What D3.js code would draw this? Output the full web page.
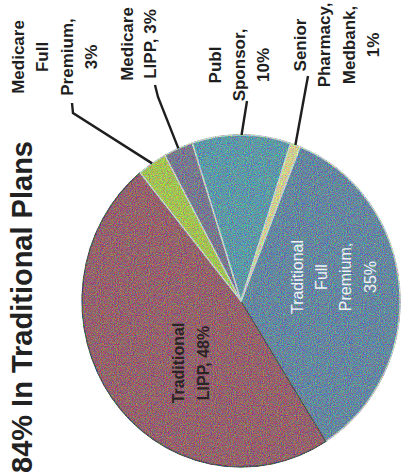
<!DOCTYPE html>
<html>
<head>
<meta charset="utf-8">
<script src="https://cdn.jsdelivr.net/npm/d3@7"></script>
<style>
  body { margin: 0; background: #fff; }
  svg { display: block; }
  text { font-family: "Liberation Sans", Arial, sans-serif; }
</style>
</head>
<body>
<script>
// slices, in drawing order (clockwise from the Senior/Traditional boundary)
var categories = ["Traditional Full Premium", "Traditional LIPP", "Medicare Full Premium", "Medicare LIPP", "Publ Sponsor", "Senior Pharmacy, Medbank"];
var shares = [35, 48, 3, 3, 10, 1];
var colors = ["#66879f", "#94636d", "#a3c056", "#78798f", "#5f98a6", "#cfcd8e"];
var labelLines = [
  ["Traditional", "Full", "Premium,", "35%"],
  ["Traditional", "LIPP, 48%"],
  ["Medicare", "Full", "Premium,", "3%"],
  ["Medicare", "LIPP, 3%"],
  ["Publ", "Sponsor,", "10%"],
  ["Senior", "Pharmacy,", "Medbank,", "1%"]
];
var title = "84% In Traditional Plans";

var width = 401, height = 476;
var cx = 241, cy = 301, ry = 166, xScale = 0.958;
var startDeg = 21.8;

// label layout: x of first line, vertical centre, line step, whether inside pie
var labelLayout = [
  {x: 297, y: 277, step: 24.3, inside: true, fill: "#eef2f6", weight: "normal"},
  {x: 178, y: 363, step: 25, inside: true, fill: "#2b2326", weight: "bold"},
  {x: 18, y: 57, step: 24.3, inside: false, bend: [[72, 103], [73, 113]]},
  {x: 127, y: 44, step: 23, inside: false, bend: [[155, 85], [158, 97]]},
  {x: 215, y: 65, step: 24, inside: false, bend: [[247, 101]]},
  {x: 300, y: 45, step: 24.3, inside: false, bend: [[308, 76]]}
];

var svg = d3.select("body").append("svg")
  .attr("width", width)
  .attr("height", height);

// grainy scan look
var defs = svg.append("defs");
var grain = defs.append("filter").attr("id", "grain")
  .attr("color-interpolation-filters", "sRGB")
  .attr("x", "-5%").attr("y", "-5%").attr("width", "110%").attr("height", "110%");
grain.append("feTurbulence")
  .attr("type", "fractalNoise").attr("baseFrequency", 0.9)
  .attr("numOctaves", 2).attr("seed", 7).attr("result", "noise");
grain.append("feColorMatrix")
  .attr("in", "noise").attr("type", "matrix")
  .attr("values", "2 -0.5 -0.5 0 0  -0.5 2 -0.5 0 0  -0.5 -0.5 2 0 0  0 0 0 0 1")
  .attr("result", "cnoise");
grain.append("feComposite")
  .attr("in", "SourceGraphic").attr("in2", "cnoise")
  .attr("operator", "arithmetic")
  .attr("k1", 0).attr("k2", 1).attr("k3", 0.4).attr("k4", -0.2)
  .attr("result", "mix");
grain.append("feComposite")
  .attr("in", "mix").attr("in2", "SourceGraphic").attr("operator", "in");

var data = categories.map(function(c, i) {
  return {name: c, value: shares[i], color: colors[i], lines: labelLines[i], layout: labelLayout[i]};
});

var pie = d3.pie()
  .sort(null)
  .value(function(d) { return d.value; })
  .startAngle(startDeg * Math.PI / 180)
  .endAngle(startDeg * Math.PI / 180 + 2 * Math.PI);

var arcs = pie(data);

var arc = d3.arc().innerRadius(0).outerRadius(ry);

var pieG = svg.append("g")
  .attr("transform", "translate(" + cx + "," + cy + ") scale(" + xScale + ",1)")
  .attr("filter", "url(#grain)");

pieG.selectAll("path.slice")
  .data(arcs)
  .enter().append("path")
  .attr("class", "slice")
  .attr("d", arc)
  .attr("fill", function(d) { return d.data.color; })
  .attr("stroke", function(d, i) { return i == 1 ? "#4a5656" : "#c3d3ca"; })
  .attr("stroke-width", 1.4)
  .attr("stroke-linejoin", "round")
  .attr("vector-effect", "non-scaling-stroke");

// point on the (squashed) rim at the middle of a slice
function rimPoint(d) {
  var a = (d.startAngle + d.endAngle) / 2;
  return [cx + xScale * ry * Math.sin(a), cy - ry * Math.cos(a)];
}

// leader lines for outside labels
var outside = arcs.filter(function(d) { return !d.data.layout.inside; });
svg.selectAll("path.leader")
  .data(outside)
  .enter().append("path")
  .attr("class", "leader")
  .attr("d", function(d) {
    var pts = d.data.layout.bend.concat([rimPoint(d)]);
    return d3.line()(pts);
  })
  .attr("fill", "none")
  .attr("stroke", "#1e1e1e")
  .attr("stroke-width", 2.4);

// labels, rotated to read bottom to top
var labels = svg.selectAll("g.label")
  .data(arcs)
  .enter().append("g")
  .attr("class", "label")
  .attr("transform", function(d) {
    return "translate(" + d.data.layout.x + "," + d.data.layout.y + ") rotate(-90)";
  });

labels.each(function(d) {
  var L = d.data.layout;
  var t = d3.select(this).append("text")
    .attr("text-anchor", "middle")
    .attr("font-size", L.inside ? "16px" : "17px")
    .attr("font-weight", L.weight || "bold")
    .attr("fill", L.fill || "#1f1f1f");
  t.selectAll("tspan")
    .data(d.data.lines)
    .enter().append("tspan")
    .attr("x", 0)
    .attr("y", function(s, i) { return i * L.step; })
    .attr("dy", "0.35em")
    .text(function(s) { return s; });
});

// title along the left edge
svg.append("text")
  .attr("transform", "translate(32,473) rotate(-90)")
  .attr("font-size", "29px")
  .attr("font-weight", "bold")
  .attr("fill", "#222")
  .text(title);
</script>
</body>
</html>
